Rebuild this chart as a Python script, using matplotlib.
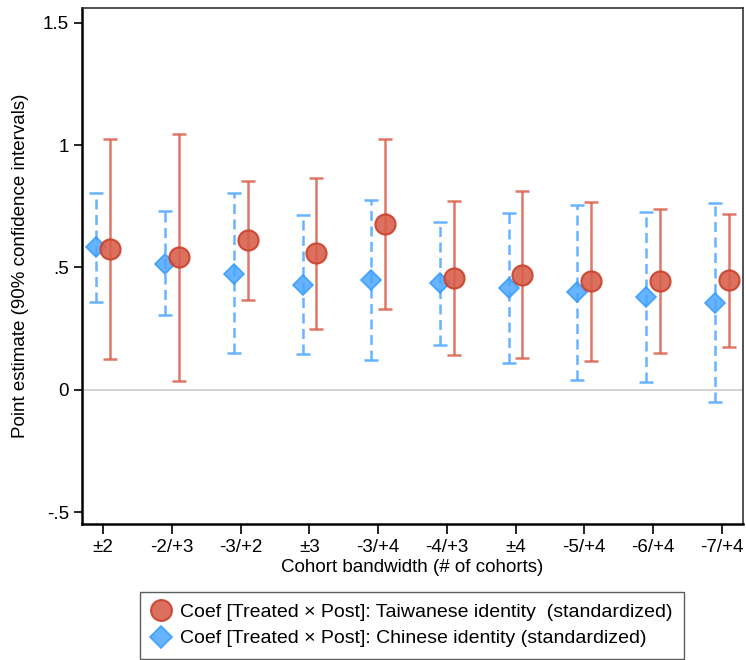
import numpy as np
import matplotlib.pyplot as plt
from matplotlib.lines import Line2D

plt.rcParams['font.family'] = ['Liberation Sans', 'DejaVu Sans']

labels = ['±2', '-2/+3', '-3/+2', '±3', '-3/+4', '-4/+3', '±4', '-5/+4', '-6/+4', '-7/+4']

tw_coef = [0.577, 0.541, 0.611, 0.559, 0.678, 0.458, 0.471, 0.443, 0.445, 0.447]
tw_lo = [0.126, 0.034, 0.365, 0.249, 0.329, 0.142, 0.130, 0.118, 0.150, 0.176]
tw_hi = [1.027, 1.045, 0.855, 0.867, 1.025, 0.772, 0.813, 0.768, 0.740, 0.719]

cn_coef = [0.582, 0.515, 0.474, 0.430, 0.449, 0.436, 0.415, 0.398, 0.378, 0.355]
cn_lo = [0.358, 0.305, 0.149, 0.147, 0.123, 0.184, 0.111, 0.041, 0.030, -0.052]
cn_hi = [0.806, 0.729, 0.805, 0.713, 0.777, 0.687, 0.721, 0.755, 0.727, 0.764]

x = np.arange(1, len(labels) + 1)
off = 0.1

red_line = '#d9604c'
red_fill = '#d9604c'
red_edge = '#c8412c'
blue_line = '#66b3ff'
blue_fill = '#4da6ff'
blue_edge = '#3399ff'

fig = plt.figure(figsize=(7.46, 6.6), dpi=100)
ax = fig.add_axes([81.5 / 746, 1 - 524 / 660, (743 - 81.5) / 746, (524 - 8) / 660])

ax.axhline(0, color='#cccccc', lw=1.2, zorder=1)

cn = np.array(cn_coef)
tw = np.array(tw_coef)

eb = ax.errorbar(x - off, cn, yerr=[cn - np.array(cn_lo), np.array(cn_hi) - cn],
                 fmt='none', ecolor=blue_line, elinewidth=1.8, capsize=5, capthick=1.8,
                 zorder=2)
eb[2][0].set_linestyle((0, (4, 2.2)))
ax.plot(x - off, cn, 'D', ms=10, mfc=blue_fill, mec=blue_edge, mew=1.2, alpha=0.85,
        zorder=3)

ax.errorbar(x + off, tw, yerr=[tw - np.array(tw_lo), np.array(tw_hi) - tw],
            fmt='none', ecolor=red_line, elinewidth=1.8, capsize=5, capthick=1.8,
            alpha=0.85, zorder=4)
ax.plot(x + off, tw, 'o', ms=14.5, mfc=red_fill, mec=red_edge, mew=1.5, alpha=0.9,
        zorder=5)

ax.set_xlim(0.683, 10.31)
ax.set_ylim(-0.549, 1.561)
ax.set_xticks(x)
ax.set_xticklabels(labels, fontsize=13.5)
ax.set_yticks([-0.5, 0, 0.5, 1, 1.5])
ax.set_yticklabels(['-.5', '0', '.5', '1', '1.5'], fontsize=13.5)
ax.tick_params(axis='x', length=7, width=1.2, pad=4)
ax.tick_params(axis='y', length=6, width=1.2, pad=3)

for s in ['left', 'bottom']:
    ax.spines[s].set_linewidth(1.8)
for s in ['top', 'right']:
    ax.spines[s].set_linewidth(1.2)
    ax.spines[s].set_color('#333333')

ax.set_xlabel('Cohort bandwidth (# of cohorts)', fontsize=13.5, labelpad=2)
ax.set_ylabel('Point estimate (90% confidence intervals)', fontsize=13.5, labelpad=10)

handles = [
    Line2D([], [], ls='none', marker='o', ms=15, mfc=red_fill, mec=red_edge, mew=1.5, alpha=0.9),
    Line2D([], [], ls='none', marker='D', ms=11, mfc=blue_fill, mec=blue_edge, mew=1.2, alpha=0.85),
]
leg_labels = ['Coef [Treated × Post]: Taiwanese identity  (standardized)',
              'Coef [Treated × Post]: Chinese identity (standardized)']
leg = fig.legend(handles, leg_labels, loc='lower left',
                 bbox_to_anchor=(140 / 746, 1 / 660), borderaxespad=0, fontsize=14,
                 frameon=True, fancybox=False, edgecolor='#333333', handletextpad=0.45,
                 borderpad=0.6, labelspacing=0.45, handlelength=1.0)
leg.get_frame().set_linewidth(1.0)

fig.savefig('out.png', dpi=100)
